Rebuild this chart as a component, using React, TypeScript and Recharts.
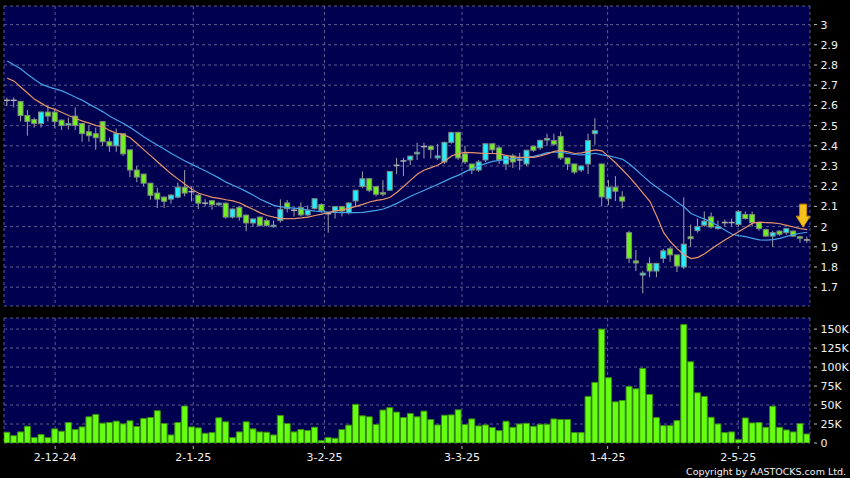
import React from 'react'
import { ComposedChart, Bar, Line, XAxis, YAxis, CartesianGrid, ReferenceDot } from 'recharts'

// trading days, index 0 = first candle on the chart
const dateLabels = ['2-12-24', '2-1-25', '3-2-25', '3-3-25', '1-4-25', '2-5-25']
const dateTicks = [7, 27.2, 46.4, 66.5, 87.8, 106.9]

const priceTicks = [1.7, 1.8, 1.9, 2.0, 2.1, 2.2, 2.3, 2.4, 2.5, 2.6, 2.7, 2.8, 2.9, 3.0]
const volTicks = [0, 25000, 50000, 75000, 100000, 125000, 150000]

const opens = [
  2.625, 2.625, 2.62, 2.55, 2.53, 2.51, 2.567, 2.567, 2.527, 2.505,
  2.547, 2.51, 2.47, 2.46, 2.52, 2.42, 2.4, 2.46, 2.38, 2.28,
  2.26, 2.215, 2.166, 2.146, 2.136, 2.146, 2.195, 2.173, 2.156, 2.116,
  2.128, 2.108, 2.116, 2.047, 2.095, 2.057, 2.018, 2.047, 2.03, 2.0,
  2.03, 2.117, 2.081, 2.094, 2.058, 2.089, 2.109, 2.064, 2.077, 2.099,
  2.069, 2.127, 2.198, 2.237, 2.198, 2.168, 2.18, 2.303, 2.325, 2.33,
  2.36, 2.396, 2.398, 2.34, 2.32, 2.417, 2.466, 2.36, 2.31, 2.28,
  2.33, 2.41, 2.39, 2.31, 2.35, 2.33, 2.31, 2.398, 2.39, 2.43,
  2.426, 2.446, 2.34, 2.31, 2.28, 2.31, 2.46, 2.31, 2.138, 2.195,
  2.147, 1.97, 1.83, 1.76, 1.818, 1.78, 1.843, 1.89, 1.86, 1.8,
  1.95, 1.98, 2.007, 2.048, 1.99, 2.02, 2.02, 2.01, 2.06, 2.06,
  2.02, 1.985, 1.953, 1.978, 1.97, 1.978, 1.95, 1.934,
]

const closes = [
  2.625, 2.625, 2.55, 2.52, 2.51, 2.567, 2.547, 2.52, 2.5, 2.51,
  2.5, 2.46, 2.45, 2.44, 2.42, 2.4, 2.46, 2.36, 2.28, 2.245,
  2.215, 2.155, 2.136, 2.125, 2.156, 2.195, 2.166, 2.173, 2.116, 2.116,
  2.108, 2.116, 2.047, 2.087, 2.047, 2.018, 2.038, 2.006, 2.006, 2.007,
  2.086, 2.089, 2.081, 2.058, 2.081, 2.138, 2.079, 2.064, 2.099, 2.077,
  2.117, 2.18, 2.237, 2.18, 2.16, 2.163, 2.273, 2.303, 2.325, 2.349,
  2.368, 2.396, 2.381, 2.35, 2.417, 2.466, 2.34, 2.32, 2.28, 2.32,
  2.41, 2.38, 2.33, 2.35, 2.32, 2.33, 2.378, 2.378, 2.427, 2.436,
  2.408, 2.34, 2.31, 2.27, 2.3, 2.426, 2.475, 2.147, 2.195, 2.175,
  2.126, 1.843, 1.82, 1.77, 1.78, 1.818, 1.88, 1.86, 1.805, 1.913,
  1.94, 2.0, 2.027, 1.998, 2.0, 2.02, 2.02, 2.075, 2.04, 2.02,
  1.99, 1.953, 1.97, 1.962, 1.99, 1.953, 1.943, 1.934,
]

const highs = [
  2.638, 2.64, 2.62, 2.577, 2.54, 2.57, 2.6, 2.577, 2.53, 2.54,
  2.59, 2.51, 2.5, 2.49, 2.52, 2.44, 2.485, 2.46, 2.38, 2.3,
  2.26, 2.215, 2.193, 2.15, 2.16, 2.218, 2.28, 2.198, 2.16, 2.136,
  2.13, 2.12, 2.12, 2.09, 2.1, 2.06, 2.04, 2.05, 2.04, 2.03,
  2.135, 2.132, 2.094, 2.12, 2.105, 2.14, 2.115, 2.07, 2.1, 2.1,
  2.12, 2.18, 2.273, 2.24, 2.2, 2.23, 2.275, 2.34, 2.34, 2.35,
  2.415, 2.415, 2.4, 2.41, 2.42, 2.47, 2.47, 2.4, 2.31, 2.33,
  2.41, 2.41, 2.4, 2.355, 2.36, 2.365, 2.38, 2.4, 2.43, 2.46,
  2.46, 2.47, 2.34, 2.31, 2.3, 2.46, 2.536, 2.31, 2.23, 2.25,
  2.175, 1.979, 1.884, 1.78, 1.848, 1.82, 1.89, 1.9, 1.86, 2.145,
  2.01, 2.04, 2.075, 2.07, 2.03, 2.035, 2.04, 2.08, 2.075, 2.075,
  2.02, 1.99, 1.98, 1.98, 1.99, 1.98, 1.955, 1.95,
]

const lows = [
  2.597, 2.59, 2.52, 2.45, 2.49, 2.49, 2.52, 2.49, 2.478, 2.48,
  2.478, 2.42, 2.42, 2.38, 2.4, 2.37, 2.37, 2.35, 2.245, 2.22,
  2.2, 2.133, 2.092, 2.092, 2.113, 2.14, 2.15, 2.125, 2.087, 2.1,
  2.084, 2.1, 2.04, 2.04, 2.03, 1.977, 2.0, 2.0, 2.0, 1.995,
  2.02, 2.07, 2.05, 2.05, 2.05, 2.085, 2.07, 1.97, 2.04, 2.05,
  2.06, 2.1, 2.19, 2.17, 2.15, 2.15, 2.18, 2.26, 2.25, 2.305,
  2.33, 2.337, 2.337, 2.33, 2.31, 2.41, 2.33, 2.31, 2.26, 2.27,
  2.32, 2.36, 2.31, 2.28, 2.29, 2.28, 2.3, 2.37, 2.38, 2.4,
  2.4, 2.33, 2.28, 2.26, 2.27, 2.26, 2.405, 2.1, 2.107, 2.126,
  2.09, 1.82, 1.78, 1.67, 1.75, 1.75, 1.82, 1.826, 1.775, 1.79,
  1.9, 1.97, 2.0, 1.99, 1.985, 2.0, 2.0, 2.0, 2.035, 2.0,
  1.98, 1.95, 1.9, 1.955, 1.96, 1.95, 1.92, 1.92,
]

// thousands of shares
const volumesK = [
  14.2, 9.7, 14.6, 22.1, 7.1, 11.1, 7.1, 18.6, 15.5, 27,
  17.7, 21.2, 34.5, 37.6, 26.1, 27, 28.8, 25.2, 29.2, 21.7,
  32.3, 33.6, 42.5, 25.7, 10.6, 27, 48.7, 21.2, 19.9, 12.8,
  13.7, 33.2, 27.9, 7.1, 14.6, 27.9, 18.6, 14.6, 14.2, 10.6,
  36.3, 25.7, 14.6, 17.7, 16.4, 20.8, 3.1, 7.1, 6.2, 17.7,
  23.5, 50.9, 35.8, 34.5, 24.3, 43.4, 46.5, 40.7, 33.6, 38.9,
  34.5, 42, 30.9, 23.8, 36.6, 37, 43.7, 24.3, 31.7, 22.5,
  23.8, 20.3, 16.3, 28.7, 20.7, 25.1, 26, 22, 24.7, 24.7,
  31.7, 30.9, 30.9, 13.7, 13.7, 61.3, 79.8, 150, 86, 54.2,
  56, 74.5, 71.4, 98.3, 63.9, 33.5, 22.9, 22.9, 29.5, 156,
  107, 66.1, 61.3, 33.9, 25.1, 13.7, 14.6, 4.4, 33, 26.4,
  26.9, 20.7, 48.5, 20.7, 17.2, 14.6, 25.6, 11.9,
]

// moving averages (orange = short, blue = long)
const maShort = [
  2.735, 2.72, 2.69, 2.66, 2.63, 2.61, 2.59, 2.58, 2.565, 2.55,
  2.535, 2.522, 2.512, 2.5, 2.495, 2.475, 2.462, 2.455, 2.44, 2.41,
  2.38, 2.35, 2.32, 2.29, 2.26, 2.235, 2.21, 2.185, 2.165, 2.155,
  2.145, 2.14, 2.133, 2.127, 2.117, 2.1, 2.085, 2.068, 2.055, 2.047,
  2.04, 2.04, 2.04, 2.043, 2.047, 2.055, 2.062, 2.07, 2.078, 2.083,
  2.09, 2.1, 2.11, 2.122, 2.13, 2.135, 2.145, 2.17, 2.2, 2.23,
  2.26, 2.28, 2.292, 2.305, 2.325, 2.35, 2.362, 2.367, 2.366, 2.364,
  2.362, 2.362, 2.36, 2.352, 2.345, 2.343, 2.343, 2.343, 2.35, 2.36,
  2.372, 2.376, 2.37, 2.362, 2.365, 2.372, 2.38, 2.375, 2.345, 2.315,
  2.28, 2.245, 2.206, 2.165, 2.124, 2.05, 1.97, 1.925, 1.89, 1.86,
  1.842, 1.848, 1.866, 1.89, 1.913, 1.935, 1.955, 1.976, 1.996, 2.017,
  2.022, 2.02, 2.018, 2.014, 2.006, 1.998, 1.99, 1.985,
]

const maLong = [
  2.82, 2.8, 2.78, 2.753, 2.728, 2.705, 2.692, 2.682, 2.672, 2.656,
  2.64, 2.625, 2.605, 2.587, 2.568, 2.546, 2.528, 2.51, 2.49, 2.467,
  2.444, 2.423, 2.403, 2.383, 2.362, 2.343, 2.325, 2.308, 2.291, 2.275,
  2.258, 2.24, 2.22, 2.205, 2.19, 2.173, 2.155, 2.135, 2.12, 2.105,
  2.098, 2.094, 2.091, 2.088, 2.082, 2.077, 2.074, 2.072, 2.07, 2.069,
  2.069, 2.069, 2.07, 2.075, 2.08, 2.087, 2.1, 2.115, 2.133, 2.15,
  2.165, 2.18, 2.195, 2.21, 2.225, 2.241, 2.255, 2.272, 2.287, 2.3,
  2.313, 2.323, 2.328, 2.333, 2.337, 2.34, 2.343, 2.348, 2.356, 2.366,
  2.368, 2.368, 2.362, 2.357, 2.355, 2.358, 2.363, 2.355, 2.35, 2.342,
  2.333, 2.31, 2.28, 2.25, 2.22, 2.195, 2.17, 2.148, 2.12, 2.097,
  2.065, 2.05, 2.037, 2.022, 2.003, 1.982, 1.962, 1.955, 1.95, 1.942,
  1.934, 1.933, 1.936, 1.942, 1.952, 1.96, 1.967, 1.972,
]

const rows = opens.map((open, i) => ({
  i,
  open,
  close: closes[i],
  high: highs[i],
  low: lows[i],
  vol: volumesK[i] * 1000,
  maShort: maShort[i],
  maLong: maLong[i],
}))

const last = rows.length - 1
const X_DOMAIN: [number, number] = [-0.48, 117.4]

const NAVY = '#000050'
const GRID = '#5c5c92'
const UP = '#22eeff'
const DOWN = '#72ee22'
const TEXT = '#f0f0f0'
const FONT = 'DejaVu Sans, Verdana, sans-serif'

function Candle(props: any) {
  const { x, y, width, height, payload } = props
  if (!payload) return null
  const { open, close, high, low } = payload
  const k = high > low ? height / (high - low) : 0
  const yOf = (v: number) => y + (high - v) * k
  const cx = x + width / 2
  const top = yOf(Math.max(open, close))
  const bot = yOf(Math.min(open, close))
  const flat = Math.abs(close - open) < 0.002
  const fill = close > open ? UP : DOWN
  return (
    <g>
      <line x1={cx} y1={y} x2={cx} y2={y + height} stroke="#a0a0a8" strokeWidth={1} />
      {flat ? (
        <line x1={cx - 3} y1={top} x2={cx + 3} y2={top} stroke="#b0b0b0" strokeWidth={1.5} />
      ) : (
        <rect x={cx - 2.5} y={top} width={5} height={Math.max(bot - top, 1.5)} fill={fill} stroke="#7d8a80" strokeWidth={1} />
      )}
    </g>
  )
}

function RightTick(props: any) {
  const { x, y, payload, fmt } = props
  return (
    <g>
      <line x1={x + 4} y1={y} x2={x + 7} y2={y} stroke="#b8b8b8" />
      <text x={x + 10.5} y={y} dy="0.36em" fill={TEXT} fontSize={11} fontFamily={FONT}>
        {fmt(payload.value)}
      </text>
    </g>
  )
}

function DateTick(props: any) {
  const { x, y, payload } = props
  const idx = dateTicks.indexOf(payload.value)
  return (
    <g>
      <line x1={x} y1={y + 3} x2={x} y2={y + 6} stroke="#b8b8b8" />
      <text x={x} y={y + 18} textAnchor="middle" fill={TEXT} fontSize={11} fontFamily={FONT}>
        {dateLabels[idx]}
      </text>
    </g>
  )
}

function Arrow(props: any) {
  const { cx, cy } = props
  const tip = cy - 2.5
  const pts = [
    [cx - 3.5, tip - 23],
    [cx + 3.5, tip - 23],
    [cx + 3.5, tip - 11],
    [cx + 7, tip - 11],
    [cx, tip],
    [cx - 7, tip - 11],
    [cx - 3.5, tip - 11],
  ]
  return <polygon points={pts.map(p => p.join(',')).join(' ')} fill="#f6c21c" stroke="#c88a00" strokeWidth={1} />
}

const fmtPrice = (v: number) => String(Math.round(v * 10) / 10)
const fmtVol = (v: number) => (v === 0 ? '0' : `${v / 1000}K`)

export default function App() {
  return (
    <div style={{ position: 'absolute', left: 0, top: 0, width: 850, height: 478, background: '#000', overflow: 'hidden' }}>
      <ComposedChart width={850} height={310} data={rows} margin={{ top: 6, right: 0, bottom: 4, left: 4 }}>
        <CartesianGrid fill={NAVY} stroke={GRID} strokeDasharray="3 3" />
        <XAxis dataKey="i" type="number" domain={X_DOMAIN} ticks={dateTicks} interval={0} allowDataOverflow hide />
        <YAxis
          orientation="right"
          width={40}
          domain={[1.607, 3.092]}
          ticks={priceTicks}
          interval={0}
          allowDataOverflow
          axisLine={false}
          tickLine={false}
          tickSize={0}
          tickMargin={0}
          tick={<RightTick fmt={fmtPrice} />}
        />
        <Line dataKey="maLong" stroke="#45a2e6" strokeWidth={1.2} dot={false} isAnimationActive={false} />
        <Line dataKey="maShort" stroke="#e8946a" strokeWidth={1.2} dot={false} isAnimationActive={false} />
        <Bar dataKey={(d: any) => [d.low, d.high]} barSize={6} shape={<Candle />} isAnimationActive={false} />
        <ReferenceDot x={last - 0.6} y={maShort[last]} r={0} shape={<Arrow />} />
      </ComposedChart>
      <div style={{ position: 'absolute', left: 0, top: 310 }}>
        <ComposedChart width={850} height={168} data={rows} margin={{ top: 8, right: 0, bottom: 5, left: 4 }}>
          <CartesianGrid fill={NAVY} stroke={GRID} strokeDasharray="3 3" />
          <XAxis
            dataKey="i"
            type="number"
            domain={X_DOMAIN}
            ticks={dateTicks}
            interval={0}
            allowDataOverflow
            height={30}
            axisLine={false}
            tickLine={false}
            tickSize={0}
            tickMargin={0}
            tick={<DateTick />}
          />
          <YAxis
            orientation="right"
            width={40}
            domain={[0, 164600]}
            ticks={volTicks}
            interval={0}
            allowDataOverflow
            axisLine={false}
            tickLine={false}
            tickSize={0}
            tickMargin={0}
            tick={<RightTick fmt={fmtVol} />}
          />
          <Bar dataKey="vol" barSize={6} fill="#66ff11" stroke="#3a8a10" strokeWidth={1} isAnimationActive={false} />
        </ComposedChart>
      </div>
      <div
        style={{
          position: 'absolute',
          right: 4,
          top: 466,
          fontSize: 9.5,
          lineHeight: '11px',
          fontFamily: FONT,
          color: TEXT,
          whiteSpace: 'nowrap',
        }}
      >
        Copyright by AASTOCKS.com Ltd.
      </div>
    </div>
  )
}
